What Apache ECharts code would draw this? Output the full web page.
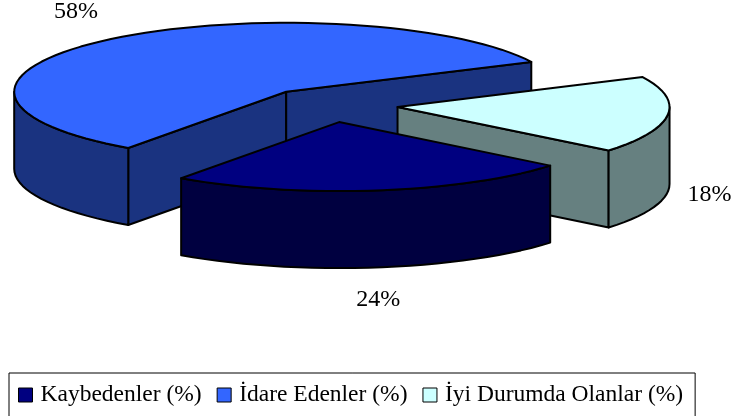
<!DOCTYPE html>
<html>
<head>
<meta charset="utf-8">
<script src="https://cdn.jsdelivr.net/npm/echarts@6/dist/echarts.min.js"></script>
<style>
  html, body { margin: 0; padding: 0; background: #fff; }
  #chart { width: 732px; height: 416px; }
</style>
</head>
<body>
<div id="chart"></div>
<script>
// data
const categories = ['Kaybedenler (%)', 'İdare Edenler (%)', 'İyi Durumda Olanlar (%)'];
const values = [24, 58, 18];
const valueLabels = ['24%', '58%', '18%'];
const topColors = ['#000080', '#3366FF', '#CCFFFF'];
const sideColors = ['#000040', '#1A3380', '#668080'];

// 3d pie geometry (pixels / degrees)
const CX = 330, CY = 105;      // common centre before explode
const RX = 272, RY = 69;       // ellipse radii of the top face
const DEPTH = 77;              // thickness
const EXPLODE = 68;            // explode distance (unsquashed)
const START = -39.1;           // start angle, math degrees, going clockwise
const K = RY / RX;
const rad = d => d * Math.PI / 180;

const total = values.reduce((a, b) => a + b, 0);
const slices = [];
let cum = 0;
values.forEach((v, i) => {
  const hi = START - cum / total * 360;
  const lo = hi - v / total * 360;
  cum += v;
  const mid = (hi + lo) / 2;
  slices.push({
    hi, lo, mid,
    px: CX + EXPLODE * Math.cos(rad(mid)),
    py: CY - EXPLODE * K * Math.sin(rad(mid))
  });
});

function rim(s, a, dy) {
  return [s.px + RX * Math.cos(rad(a)), s.py - RY * Math.sin(rad(a)) + (dy || 0)];
}
function arc(s, from, to, dy) {
  const n = Math.max(2, Math.ceil(Math.abs(to - from) / 3));
  const pts = [];
  for (let j = 0; j <= n; j++) pts.push(rim(s, from + (to - from) * j / n, dy));
  return pts;
}

const stroke = { stroke: '#000', lineWidth: 2, lineJoin: 'round' };

function renderSlice(i) {
  return function (params, api) {
    const s = slices[i];
    const children = [];
    const poly = (points, fill) => children.push({
      type: 'polygon', shape: { points }, style: Object.assign({ fill }, stroke)
    });
    const apex = [s.px, s.py];
    const apexLow = [s.px, s.py + DEPTH];
    // radial faces that face the viewer
    if (Math.cos(rad(s.hi)) < 0) {
      poly([apex, rim(s, s.hi), rim(s, s.hi, DEPTH), apexLow], sideColors[i]);
    }
    if (Math.cos(rad(s.lo)) > 0) {
      poly([apex, rim(s, s.lo), rim(s, s.lo, DEPTH), apexLow], sideColors[i]);
    }
    // curved outer side, front half only
    for (let k = -2; k <= 1; k++) {
      const f0 = -180 + 360 * k, f1 = 360 * k;
      const a = Math.max(s.lo, f0), b = Math.min(s.hi, f1);
      if (b - a > 0.01) {
        const upper = arc(s, a, b, 0);
        const lower = arc(s, b, a, DEPTH);
        poly(upper.concat(lower), sideColors[i]);
      }
    }
    // top face
    poly([apex].concat(arc(s, s.hi, s.lo, 0)), topColors[i]);
    // value label
    const c = Math.cos(rad(s.mid)), sn = Math.sin(rad(s.mid));
    const lx = s.px + (RX + 20) * c;
    const ly = s.py - (RY + 20) * sn + (sn < 0 ? DEPTH : 0);
    children.push({
      type: 'text',
      style: {
        x: lx, y: ly, text: valueLabels[i],
        fill: '#000', font: '24px "Liberation Serif", "Times New Roman", serif',
        align: c > 0.3 ? 'left' : (c < -0.3 ? 'right' : 'center'),
        verticalAlign: sn < -0.5 ? 'top' : (sn > 0.5 ? 'bottom' : 'middle')
      }
    });
    return { type: 'group', children };
  };
}

// draw back to front: İdare, İyi, Kaybedenler
const drawOrder = [1, 2, 0];
const series = drawOrder.map(i => ({
  type: 'custom',
  name: categories[i],
  coordinateSystem: 'none',
  itemStyle: { color: topColors[i], borderColor: '#000', borderWidth: 1 },
  data: [values[i]],
  renderItem: renderSlice(i)
}));

const chart = echarts.init(document.getElementById('chart'), null, { renderer: 'canvas' });
chart.setOption({
  animation: false,
  backgroundColor: '#fff',
  legend: {
    data: categories,
    left: 9,
    top: 373,
    padding: [10, 12, 14, 9],
    borderColor: '#000',
    borderWidth: 1,
    itemGap: 15,
    itemWidth: 14,
    itemHeight: 14,
    icon: 'rect',
    selectedMode: false,
    itemStyle: { borderColor: '#000', borderWidth: 1 },
    textStyle: {
      fontFamily: '"Liberation Serif", "Times New Roman", serif',
      fontSize: 23.5,
      color: '#000',
      padding: [0, 0, 0, 3]
    }
  },
  series
});
</script>
</body>
</html>
